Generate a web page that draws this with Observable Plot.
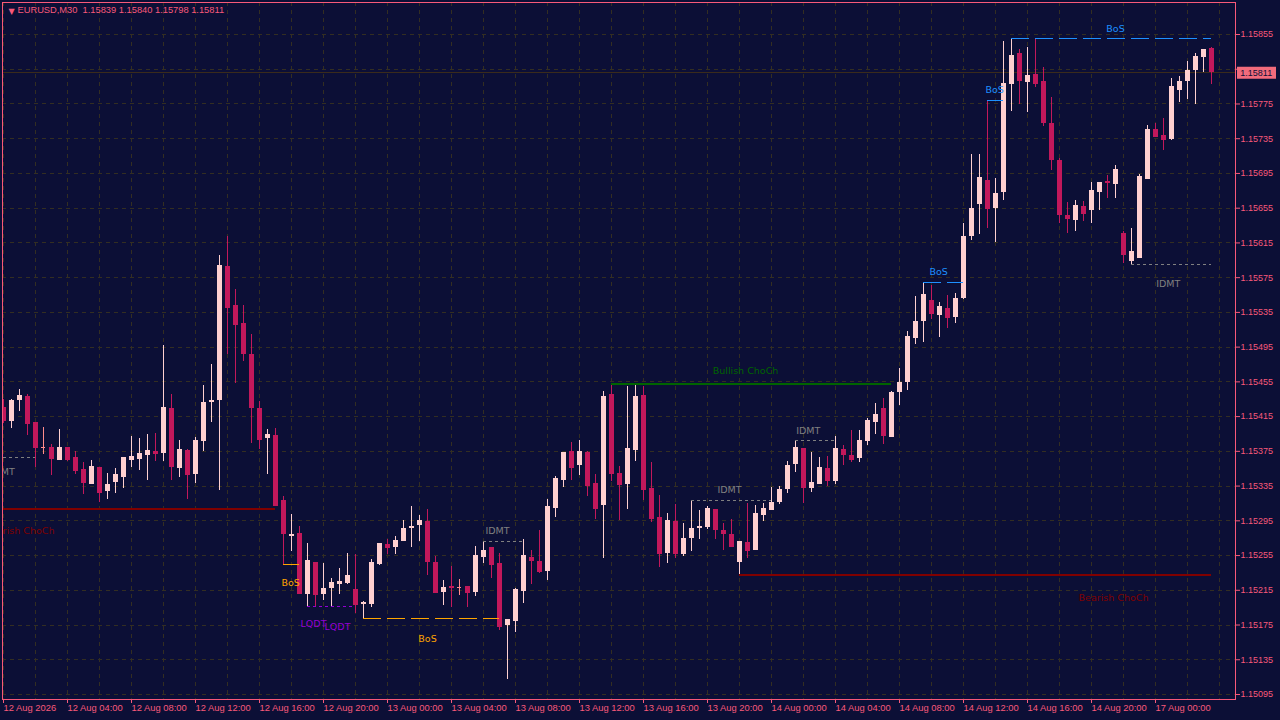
<!DOCTYPE html>
<html><head><meta charset="utf-8">
<script src="https://cdn.jsdelivr.net/npm/d3@7"></script>
<script src="https://cdn.jsdelivr.net/npm/@observablehq/plot@0.6"></script>
<style>html,body{margin:0;padding:0;background:#0c0f36}svg{display:block}</style>
</head><body><div id="chart"></div>
<script>
const opens=[1.15426,1.15409,1.15433,1.15438,1.15408,1.15380,1.15379,1.15365,1.15380,1.15368,
1.15354,1.15337,1.15356,1.15329,1.15339,1.15345,1.15365,1.15366,1.15370,1.15375,
1.15372,1.15424,1.15355,1.15376,1.15348,1.15386,1.15431,1.15434,1.15588,1.15543,
1.15522,1.15486,1.15424,1.15390,1.15393,1.15318,1.15277,1.15280,1.15210,1.15247,
1.15210,1.15217,1.15222,1.15223,1.15216,1.15199,1.15199,1.15245,1.15268,1.15264,
1.15271,1.15286,1.15290,1.15294,1.15247,1.15212,1.15219,1.15218,1.15219,1.15212,
1.15253,1.15264,1.15246,1.15174,1.15179,1.15214,1.15253,1.15248,1.15237,1.15309,
1.15341,1.15375,1.15359,1.15374,1.15338,1.15313,1.15440,1.15349,1.15337,1.15376,
1.15439,1.15332,1.15299,1.15257,1.15294,1.15256,1.15275,1.15286,1.15287,1.15308,
1.15284,1.15279,1.15247,1.15270,1.15261,1.15301,1.15307,1.15316,1.15331,1.15360,
1.15378,1.15332,1.15337,1.15355,1.15340,1.15377,1.15370,1.15367,1.15386,1.15408,
1.15424,1.15391,1.15443,1.15454,1.15505,1.15525,1.15549,1.15531,1.15540,1.15529,
1.15551,1.15622,1.15659,1.15687,1.15655,1.15673,1.15797,1.15833,1.15800,1.15809,
1.15801,1.15752,1.15710,1.15647,1.15641,1.15657,1.15652,1.15673,1.15686,1.15682,
1.15626,1.15594,1.15597,1.15688,1.15746,1.15739,1.15734,1.15790,1.15801,1.15813,
1.15828,1.15839];
const closes=[1.15409,1.15433,1.15439,1.15406,1.15378,1.15380,1.15366,1.15379,1.15364,1.15352,
1.15338,1.15357,1.15327,1.15337,1.15348,1.15368,1.15369,1.15372,1.15376,1.15371,
1.15425,1.15356,1.15377,1.15347,1.15387,1.15431,1.15434,1.15589,1.15540,1.15520,
1.15486,1.15424,1.15388,1.15394,1.15312,1.15279,1.15279,1.15210,1.15249,1.15209,
1.15217,1.15224,1.15225,1.15232,1.15197,1.15201,1.15247,1.15269,1.15263,1.15272,
1.15286,1.15288,1.15295,1.15247,1.15211,1.15218,1.15217,1.15218,1.15211,1.15255,
1.15261,1.15244,1.15172,1.15181,1.15216,1.15255,1.15248,1.15235,1.15311,1.15344,
1.15374,1.15355,1.15375,1.15334,1.15308,1.15438,1.15348,1.15336,1.15378,1.15438,
1.15330,1.15296,1.15256,1.15295,1.15256,1.15275,1.15286,1.15288,1.15309,1.15284,
1.15279,1.15264,1.15271,1.15260,1.15303,1.15309,1.15316,1.15331,1.15359,1.15379,
1.15332,1.15339,1.15356,1.15340,1.15378,1.15370,1.15364,1.15388,1.15411,1.15417,
1.15392,1.15443,1.15454,1.15507,1.15525,1.15556,1.15533,1.15542,1.15528,1.15551,
1.15622,1.15655,1.15690,1.15653,1.15672,1.15799,1.15831,1.15801,1.15808,1.15797,
1.15752,1.15710,1.15647,1.15642,1.15658,1.15648,1.15675,1.15685,1.15683,1.15700,
1.15600,1.15605,1.15691,1.15746,1.15736,1.15733,1.15795,1.15801,1.15813,1.15830,
1.15838,1.15811];
const highs=[1.15435,1.15435,1.15446,1.15441,1.15408,1.15402,1.15383,1.15400,1.15380,1.15375,
1.15362,1.15364,1.15356,1.15349,1.15355,1.15368,1.15392,1.15390,1.15394,1.15396,
1.15497,1.15441,1.15388,1.15377,1.15391,1.15451,1.15475,1.15601,1.15622,1.15561,
1.15543,1.15510,1.15432,1.15400,1.15401,1.15323,1.15302,1.15288,1.15269,1.15247,
1.15246,1.15229,1.15240,1.15257,1.15256,1.15202,1.15250,1.15269,1.15273,1.15277,
1.15295,1.15311,1.15301,1.15308,1.15254,1.15226,1.15242,1.15227,1.15219,1.15265,
1.15271,1.15264,1.15257,1.15181,1.15217,1.15273,1.15261,1.15284,1.15320,1.15346,
1.15374,1.15385,1.15387,1.15375,1.15348,1.15444,1.15452,1.15358,1.15450,1.15451,
1.15450,1.15362,1.15324,1.15303,1.15314,1.15292,1.15318,1.15307,1.15311,1.15308,
1.15292,1.15296,1.15271,1.15315,1.15313,1.15315,1.15333,1.15335,1.15363,1.15387,
1.15378,1.15374,1.15368,1.15369,1.15392,1.15382,1.15399,1.15399,1.15413,1.15430,
1.15436,1.15444,1.15470,1.15513,1.15553,1.15569,1.15566,1.15546,1.15555,1.15557,
1.15637,1.15717,1.15717,1.15779,1.15689,1.15847,1.15850,1.15838,1.15840,1.15850,
1.15817,1.15782,1.15712,1.15661,1.15664,1.15663,1.15685,1.15685,1.15693,1.15704,
1.15628,1.15632,1.15694,1.15750,1.15752,1.15758,1.15804,1.15807,1.15824,1.15833,
1.15838,1.15840];
const lows=[1.15407,1.15401,1.15421,1.15393,1.15356,1.15371,1.15347,1.15365,1.15363,1.15348,
1.15325,1.15337,1.15316,1.15319,1.15327,1.15332,1.15356,1.15353,1.15341,1.15363,
1.15363,1.15341,1.15345,1.15320,1.15338,1.15375,1.15408,1.15330,1.15486,1.15453,
1.15478,1.15384,1.15377,1.15348,1.15311,1.15245,1.15260,1.15210,1.15196,1.15196,
1.15203,1.15195,1.15210,1.15222,1.15188,1.15182,1.15195,1.15243,1.15256,1.15256,
1.15271,1.15264,1.15271,1.15232,1.15211,1.15197,1.15195,1.15209,1.15195,1.15208,
1.15246,1.15229,1.15169,1.15112,1.15166,1.15200,1.15222,1.15234,1.15226,1.15299,
1.15333,1.15341,1.15347,1.15323,1.15296,1.15252,1.15340,1.15295,1.15308,1.15363,
1.15318,1.15293,1.15241,1.15246,1.15252,1.15254,1.15260,1.15274,1.15285,1.15274,
1.15261,1.15264,1.15233,1.15252,1.15261,1.15294,1.15307,1.15314,1.15326,1.15351,
1.15315,1.15328,1.15337,1.15334,1.15337,1.15359,1.15362,1.15362,1.15382,1.15394,
1.15383,1.15391,1.15428,1.15445,1.15498,1.15500,1.15527,1.15506,1.15516,1.15522,
1.15550,1.15618,1.15625,1.15632,1.15615,1.15664,1.15766,1.15774,1.15765,1.15794,
1.15749,1.15698,1.15637,1.15626,1.15628,1.15640,1.15637,1.15652,1.15666,1.15666,
1.15591,1.15589,1.15597,1.15688,1.15736,1.15721,1.15733,1.15777,1.15780,1.15774,
1.15811,1.15798];

const priceTicks=[1.15855,1.15815,1.15775,1.15735,1.15695,1.15655,1.15615,1.15575,1.15535,1.15495,1.15455,1.15415,1.15375,1.15335,1.15295,1.15255,1.15215,1.15175,1.15135,1.15095];
const hiddenTick=1.15815;
const timeTickBars=[0,8,16,24,32,40,48,56,64,72,80,88,96,104,112,120,128,136,144];
const timeTickLabels=["12 Aug 2026","12 Aug 04:00","12 Aug 08:00","12 Aug 12:00","12 Aug 16:00","12 Aug 20:00","13 Aug 00:00","13 Aug 04:00","13 Aug 08:00","13 Aug 12:00","13 Aug 16:00","13 Aug 20:00","14 Aug 00:00","14 Aug 04:00","14 Aug 08:00","14 Aug 12:00","14 Aug 16:00","14 Aug 20:00","17 Aug 00:00"];
const gridBars=d3.range(0,154,4);

const RED="#800000",GREEN="#006400",BLUE="#1e90ff",ORANGE="#ffa500",GREY="#808080",PURPLE="#9400d3";
// levels: [from bar, to bar, price, colour, width, dash]
const levels=[
 [-3,34,1.15309,RED,2,"none"],
 [92,151,1.15233,RED,2,"none"],
 [76,111,1.15452,GREEN,2,"none"],
 [126,151,1.15850,BLUE,1,"18,6"],
 [123,125,1.15779,BLUE,1,"none"],
 [115,120,1.15570,BLUE,1,"18,6"],
 [45,62,1.15182,ORANGE,1,"18,6"],
 [35,37,1.15245,ORANGE,1,"none"],
 [141,151,1.15590,GREY,1,"3,3"],
 [99,104,1.15387,GREY,1,"3,3"],
 [86,96,1.15318,GREY,1,"3,3"],
 [60,65,1.15271,GREY,1,"3,3"],
 [-3,4,1.15368,GREY,1,"3,3"],
 [38,44,1.15196,PURPLE,1,"3,3"]
].map(([a,b,p,c,w,d])=>({a,b,p,c,w,d}));
// labels: [text, bar, price, colour]
const notes=[
 ["Bearish ChoCh",2,1.15283,RED],
 ["Bearish ChoCh",138.75,1.15206,RED],
 ["Bullish ChoCh",92.75,1.15468,GREEN],
 ["BoS",139,1.15861,BLUE],
 ["BoS",123.9,1.15791,BLUE],
 ["BoS",116.9,1.15582,BLUE],
 ["BoS",53,1.15159,ORANGE],
 ["BoS",35.9,1.15224,ORANGE],
 ["IDMT",145.6,1.15568,GREY],
 ["IDMT",100.6,1.15398,GREY],
 ["IDMT",90.75,1.15330,GREY],
 ["IDMT",61.75,1.15283,GREY],
 ["IDMT",-0.1,1.15351,GREY],
 ["LQDT",38.75,1.15176,PURPLE],
 ["LQDT",41.75,1.15173,PURPLE]
].map(([t,k,p,c])=>({t,k,p,c}));

const candles=opens.map((o,i)=>({i,o,c:closes[i],h:highs[i],l:lows[i]}));
const AXIS="#f8597a",BG="#0c0f36",BULL="#ffd0d0",BEAR="#c2185b",DOJI="#ff8c8c",GRID="#332e22";
const col=d=>d.o===d.c?DOJI:d.c>d.o?BULL:BEAR;
const lastPrice=closes[closes.length-1];
const FONT="'Liberation Sans',sans-serif";
const levelMark=dash=>Plot.ruleY(levels.filter(l=>l.d===dash),{y:"p",x1:"a",x2:"b",stroke:"c",strokeWidth:"w",strokeDasharray:dash,clip:"frame",shapeRendering:"crispEdges"});

const chart=Plot.plot({
 width:1280,height:720,
 marginLeft:2,marginRight:45,marginTop:2,marginBottom:21,
 style:{background:BG,fontFamily:FONT,fontSize:"9px",color:AXIS},
 x:{type:"linear",domain:[-0.125,154],range:[2,1235]},
 y:{type:"linear",domain:[1.1508924,1.15891855],range:[699,2]},
 marks:[
  Plot.ruleX(gridBars,{x:d=>d,stroke:GRID,strokeDasharray:"4,4",shapeRendering:"crispEdges"}),
  Plot.ruleY(priceTicks,{y:d=>d,stroke:GRID,strokeDasharray:"4,4",shapeRendering:"crispEdges"}),
  Plot.ruleY([lastPrice],{y:d=>d,stroke:"#3a2b1c",shapeRendering:"crispEdges"}),
  Plot.ruleX(candles,{x:"i",y1:"l",y2:"h",stroke:col,strokeWidth:1,clip:"frame",shapeRendering:"crispEdges"}),
  Plot.ruleX(candles,{x:"i",y1:"o",y2:"c",stroke:col,strokeWidth:5,clip:"frame",shapeRendering:"crispEdges"}),
  Plot.ruleY(candles.filter(d=>d.o===d.c),{y:"c",x1:d=>d.i-0.31,x2:d=>d.i+0.31,stroke:DOJI,shapeRendering:"crispEdges"}),
  levelMark("none"),levelMark("18,6"),levelMark("3,3"),
  Plot.text(notes,{x:"k",y:"p",text:"t",fill:"c",clip:"frame",fontSize:9.5,fontFamily:"'DejaVu Sans',sans-serif"}),
  Plot.axisY({anchor:"right",ticks:priceTicks,tickFormat:d=>d===hiddenTick?"":d3.format(".5f")(d),tickSize:4,tickPadding:1,stroke:AXIS,fill:AXIS,label:null,fontSize:9}),
  Plot.axisX({anchor:"bottom",ticks:timeTickBars,tickFormat:d=>timeTickLabels[timeTickBars.indexOf(d)],tickSize:4,tickPadding:1,stroke:AXIS,fill:AXIS,label:null,textAnchor:"start",fontSize:9.4}),
  Plot.frame({stroke:AXIS}),
  Plot.ruleY([lastPrice],{y:d=>d,x1:154.25,x2:159.125,stroke:"#f26b7c",strokeWidth:12,clip:false}),
  Plot.text([lastPrice],{y:d=>d,x:154.6,text:d=>d3.format(".5f")(d),textAnchor:"start",fill:BG,fontSize:9}),
  Plot.text(["▼"],{frameAnchor:"top-left",dx:6,dy:6,text:d=>d,fill:AXIS,fontSize:8,textAnchor:"start",fontFamily:"'DejaVu Sans',sans-serif"}),
  Plot.text(["EURUSD,M30  1.15839 1.15840 1.15798 1.15811"],{frameAnchor:"top-left",dx:15,dy:4,text:d=>d,fill:AXIS,fontSize:9.3,textAnchor:"start"})
 ]
});
document.getElementById("chart").appendChild(chart);
</script>
</body></html>
